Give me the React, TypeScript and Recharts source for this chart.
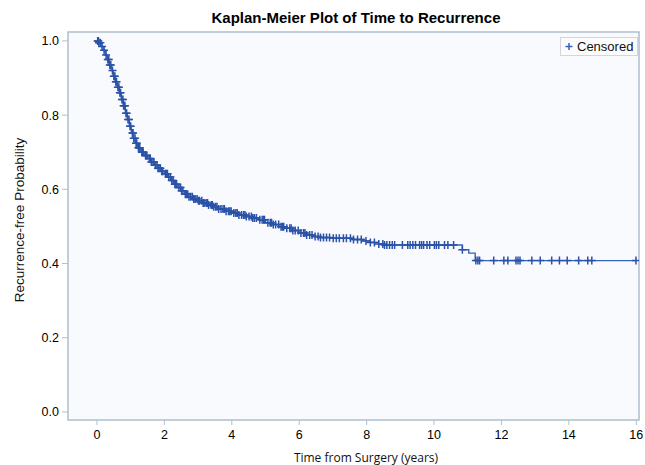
import React from 'react';
import { ComposedChart, Line, Scatter, XAxis, YAxis, ReferenceArea } from 'recharts';

// Kaplan-Meier step curve: time (years) and survival after the drop at that time
const eventTimes = [
  0, 0.05, 0.12, 0.18, 0.24, 0.3, 0.36, 0.42, 0.48, 0.54, 0.6, 0.66, 0.72, 0.78, 0.84, 0.9, 0.96,
  1.02, 1.08, 1.14, 1.2, 1.3, 1.4, 1.5, 1.6, 1.7, 1.8, 1.9, 2.0, 2.1, 2.2, 2.3, 2.4, 2.5, 2.6, 2.7,
  2.85, 3.0, 3.15, 3.3, 3.45, 3.6, 3.8, 4.0, 4.2, 4.4, 4.6, 4.8, 5.0, 5.2, 5.4, 5.6, 5.8, 6.0, 6.2,
  6.4, 6.6, 7.0, 7.6, 7.9, 8.1, 8.35, 8.5, 10.84, 11.03, 11.22, 16.0,
];
const survival = [
  1.0, 0.995, 0.985, 0.975, 0.962, 0.95, 0.935, 0.92, 0.905, 0.89, 0.875, 0.86, 0.842, 0.825, 0.805, 0.788, 0.77,
  0.752, 0.738, 0.724, 0.712, 0.7, 0.691, 0.683, 0.674, 0.665, 0.657, 0.649, 0.642, 0.633, 0.624, 0.614, 0.605, 0.596, 0.587, 0.58,
  0.574, 0.569, 0.563, 0.558, 0.553, 0.547, 0.541, 0.536, 0.531, 0.527, 0.523, 0.518, 0.51, 0.505, 0.499, 0.495, 0.489, 0.482, 0.477,
  0.473, 0.47, 0.468, 0.465, 0.461, 0.457, 0.453, 0.45, 0.437, 0.428, 0.408, 0.408,
];

// Censored observation times (years)
const censorTimes = [
  0.02, 0.04, 0.06, 0.1, 0.15, 0.21, 0.27, 0.32, 0.35, 0.38, 0.41, 0.46, 0.5, 0.53, 0.56, 0.58, 0.62, 0.65,
  0.68, 0.7, 0.74, 0.77, 0.79, 0.81, 0.83, 0.86, 0.88, 0.92, 0.95, 0.98, 1.0, 1.05, 1.07, 1.09, 1.13, 1.16,
  1.18, 1.23, 1.25, 1.27, 1.33, 1.35, 1.37, 1.44, 1.46, 1.48, 1.55, 1.58, 1.61, 1.66, 1.69, 1.73, 1.78, 1.81,
  1.84, 1.88, 1.92, 1.95, 2.03, 2.06, 2.09, 2.13, 2.18, 2.22, 2.26, 2.31, 2.34, 2.36, 2.43, 2.48, 2.51, 2.55,
  2.62, 2.66, 2.69, 2.73, 2.78, 2.83, 2.87, 2.91, 2.97, 3.01, 3.04, 3.11, 3.15, 3.18, 3.24, 3.28, 3.31, 3.39,
  3.42, 3.46, 3.52, 3.56, 3.61, 3.68, 3.74, 3.78, 3.83, 3.9, 3.94, 3.98, 4.06, 4.12, 4.16, 4.21, 4.29, 4.35,
  4.39, 4.43, 4.51, 4.58, 4.62, 4.67, 4.73, 4.83, 4.9, 4.94, 4.97, 5.07, 5.14, 5.18, 5.23, 5.3, 5.39, 5.46,
  5.5, 5.54, 5.63, 5.72, 5.76, 5.81, 5.88, 5.97, 6.05, 6.13, 6.17, 6.22, 6.31, 6.38, 6.47, 6.56, 6.63, 6.72,
  6.81, 6.9, 7.01, 7.1, 7.19, 7.31, 7.4, 7.52, 7.61, 7.73, 7.84, 7.98, 8.11, 8.23, 8.36,
  8.48, 8.53, 8.6, 8.68, 8.76, 8.83, 9.06, 9.22, 9.29, 9.37, 9.45, 9.57, 9.63, 9.69, 9.79, 9.87, 10.01,
  10.07, 10.14, 10.31, 10.41, 10.58, 10.84,
  11.24, 11.3, 11.35, 11.77, 12.07, 12.19, 12.43, 12.49, 12.55, 12.9, 13.15, 13.49, 13.72, 13.95, 14.29,
  14.56, 14.68, 15.99,
];

const xTicks = [0, 2, 4, 6, 8, 10, 12, 14, 16];
const yTicks = [0, 0.2, 0.4, 0.6, 0.8, 1.0];

const kmData = eventTimes.map((t, i) => ({ t, s: survival[i] }));
const survAt = (t: number) => {
  let s = survival[0];
  for (let i = 0; i < eventTimes.length; i++) {
    if (eventTimes[i] <= t) s = survival[i];
  }
  return s;
};
const censorData = censorTimes.map((t) => ({ t, s: survAt(t) }));

const X_DOMAIN: [number, number] = [-0.86, 16.08];
const Y_DOMAIN: [number, number] = [-0.0216, 1.024];
const BLUE = '#3264b8';
const MARK = '#2a52a8';
const FRAME = '#aebfca';

const Plus = (props: any) => {
  const { cx, cy } = props;
  if (cx == null || cy == null) return null;
  return (
    <path
      d={`M${cx - 4},${cy}h8M${cx},${cy - 4}v8`}
      stroke={MARK}
      strokeWidth={1.5}
      fill="none"
    />
  );
};

export default function App() {
  return (
    <div style={{ position: 'absolute', left: 0, top: 0, width: 645, height: 465, background: '#ffffff' }}>
      <ComposedChart width={645} height={465} margin={{ top: 32, right: 6, left: 0, bottom: 0 }}>
        <XAxis
          type="number"
          dataKey="t"
          domain={X_DOMAIN}
          ticks={xTicks}
          allowDataOverflow
          height={45}
          axisLine={false}
          tickLine={{ stroke: FRAME }}
          tickSize={5}
          tickMargin={5}
          tick={{ fill: '#000', fontSize: 12.5, fontFamily: 'Liberation Sans, Arial, sans-serif' }}
          tickFormatter={(v: number) => String(v)}
        />
        <YAxis
          type="number"
          domain={Y_DOMAIN}
          ticks={yTicks}
          allowDataOverflow
          width={68}
          axisLine={false}
          tickLine={{ stroke: FRAME }}
          tickSize={6}
          tickMargin={3}
          tick={{ fill: '#000', fontSize: 12.5, fontFamily: 'Liberation Sans, Arial, sans-serif' }}
          tickFormatter={(v: number) => v.toFixed(1)}
        />
        <ReferenceArea
          x1={X_DOMAIN[0]}
          x2={X_DOMAIN[1]}
          y1={Y_DOMAIN[0]}
          y2={Y_DOMAIN[1]}
          fill="#f9fafd"
          fillOpacity={1}
          stroke={FRAME}
          strokeWidth={1.5}
          ifOverflow="visible"
        />
        <Line
          data={kmData}
          dataKey="s"
          type="stepAfter"
          stroke={BLUE}
          strokeWidth={1.4}
          dot={false}
          activeDot={false}
          isAnimationActive={false}
        />
        <Scatter data={censorData} dataKey="s" shape={Plus} isAnimationActive={false} />
      </ComposedChart>
      <svg
        width={645}
        height={465}
        style={{ position: 'absolute', left: 0, top: 0, pointerEvents: 'none' }}
      >
        <text
          x={356}
          y={23}
          textAnchor="middle"
          fontFamily="Liberation Sans, Arial, sans-serif"
          fontWeight="bold"
          fontSize={15}
          fill="#000"
        >
          Kaplan-Meier Plot of Time to Recurrence
        </text>
        <text
          x={366}
          y={462}
          textAnchor="middle"
          fontFamily="Open Sans, sans-serif"
          fontSize={12}
          fill="#111"
        >
          Time from Surgery (years)
        </text>
        <text
          transform="translate(23.5,220) rotate(-90)"
          textAnchor="middle"
          fontFamily="Liberation Sans, Arial, sans-serif"
          fontSize={13.5}
          fill="#111"
        >
          Recurrence-free Probability
        </text>
        <rect x={560.5} y={37.5} width={77} height={18} fill="#fcfcfd" stroke="#d2d6da" strokeWidth={1} />
        <path d="M565.5,46.5h7M569,43v7" stroke={BLUE} strokeWidth={1.5} />
        <text x={577} y={51} fontFamily="Liberation Sans, Arial, sans-serif" fontSize={13} fill="#111">
          Censored
        </text>
      </svg>
    </div>
  );
}
